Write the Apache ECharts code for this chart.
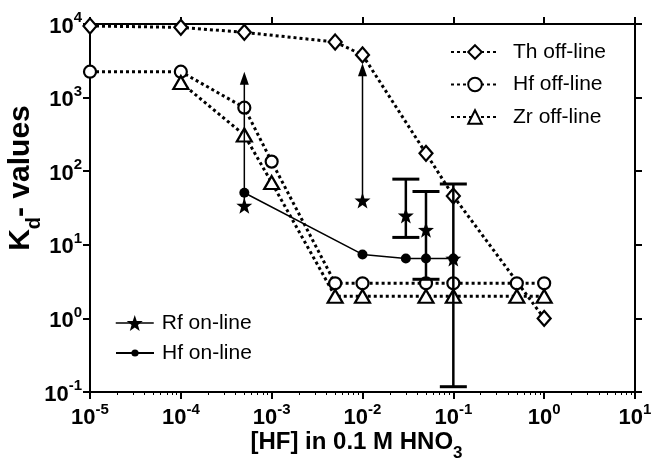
<!DOCTYPE html>
<html>
<head>
<meta charset="utf-8">
<script src="https://cdn.jsdelivr.net/npm/echarts@6/dist/echarts.min.js"></script>
<style>html,body{margin:0;padding:0;background:#fff}#c{width:654px;height:461px}</style>
</head>
<body>
<div id="c"></div>
<script>
// ---- data ----
const thX = [1e-5, 1e-4, 5e-4, 5e-3, 1e-2, 5e-2, 1e-1, 1];
const thY = [9400, 9000, 7700, 5700, 3800, 175, 46, 1.0];
const hfOffX = [1e-5, 1e-4, 5e-4, 1e-3, 5e-3, 1e-2, 5e-2, 1e-1, 5e-1, 1];
const hfOffY = [2250, 2250, 730, 135, 3, 3, 3, 3, 3, 3];
const zrX = [1e-4, 5e-4, 1e-3, 5e-3, 1e-2, 5e-2, 1e-1, 5e-1, 1];
const zrY = [1600, 310, 70, 2, 2, 2, 2, 2, 2];
const rfX = [5e-4, 1e-2, 3e-2, 5e-2, 1e-1];
const rfY = [34, 40, 25, 16, 6.5];
const hfOnX = [5e-4, 1e-2, 3e-2, 5e-2, 1e-1];
const hfOnY = [51, 7.4, 6.5, 6.5, 6.5];
// lower limits (arrows): from star value up to arrow tip
const arrowX = [5e-4, 1e-2];
const arrowFrom = [34, 40];
const arrowTo = [2250, 2930];
// error bars of Rf on-line
const errX = [3e-2, 5e-2, 1e-1];
const errLow = [12.6, 3.4, 0.118];
const errHigh = [78, 53, 67];
const minorTicks = [];
for (let e = -5; e < 1; e++) for (let m = 2; m <= 9; m++) minorTicks.push(+(m * Math.pow(10, e)).toPrecision(3));

const FONT = 'Liberation Sans, Arial, sans-serif';
const STAR = 'path://M0,-10L2.35,-3.24L9.51,-3.09L3.8,1.24L5.88,8.09L0,4.2L-5.88,8.09L-3.8,1.24L-9.51,-3.09L-2.35,-3.24Z';
const DOT = [3, 3];

const pow10 = v => '{b|10}{e|' + Math.round(Math.log10(v)) + '}';
const richLbl = {
  b: {fontSize: 22, fontWeight: 'bold', fontFamily: FONT, color: '#000', lineHeight: 27, verticalAlign: 'bottom'},
  e: {fontSize: 15, fontWeight: 'bold', fontFamily: FONT, color: '#000', lineHeight: 15, verticalAlign: 'top'}
};
const axLine = {show: true, lineStyle: {color: '#000', width: 2}};
const tickOut = {show: true, inside: false, length: 7, lineStyle: {color: '#000', width: 2}};

const zip = (xs, ys) => xs.map((x, i) => [x, ys[i]]);
const hollow = {color: '#fff', borderColor: '#000', borderWidth: 2.2};
const legText = pad => ({fontSize: 21, fontFamily: FONT, color: '#000', lineHeight: 24, padding: [0, 0, 0, pad]});

const chart = echarts.init(document.getElementById('c'), null, {renderer: 'canvas'});
chart.setOption({
  animation: false,
  backgroundColor: '#fff',
  grid: {left: 90, right: 19, top: 24, bottom: 69, outerBoundsMode: 'none'},
  xAxis: [
    {type: 'log', logBase: 10, min: 1e-5, max: 10, position: 'bottom',
     axisLine: axLine, axisTick: tickOut, splitLine: {show: false},
     axisLabel: {margin: 10, formatter: pow10, rich: richLbl},
     name: '{t|[HF] in 0.1 M HNO}{s|3}', nameLocation: 'middle', nameGap: 38, nameMoveOverlap: false,
     nameTextStyle: {rich: {
       t: {fontSize: 24, fontWeight: 'bold', fontFamily: FONT, color: '#000', lineHeight: 28, verticalAlign: 'top'},
       s: {fontSize: 17, fontWeight: 'bold', fontFamily: FONT, color: '#000', lineHeight: 17, verticalAlign: 'bottom', padding: [0, 0, -4, 0]}
     }, padding: [0, 12, 0, 0]}},
    {type: 'log', logBase: 10, min: 1e-5, max: 10, position: 'top',
     axisLine: axLine, axisTick: tickOut, axisLabel: {show: false}, splitLine: {show: false}},
    {type: 'log', logBase: 10, min: 1e-5, max: 10, position: 'bottom',
     axisLine: {show: false}, axisLabel: {show: false}, splitLine: {show: false},
     axisTick: {show: true, inside: false, length: 3, customValues: minorTicks, lineStyle: {color: '#000', width: 1}}}
  ],
  yAxis: [
    {type: 'log', logBase: 10, min: 0.1, max: 1e4, position: 'left',
     axisLine: axLine, axisTick: tickOut, splitLine: {show: false},
     axisLabel: {margin: 8, formatter: pow10, rich: richLbl},
     name: '{k|K}{d|d}{k|- values}', nameLocation: 'middle', nameGap: 52, nameRotate: 90,
     nameMoveOverlap: false,
     nameTextStyle: {rich: {
       k: {fontSize: 30, fontWeight: 'bold', fontFamily: FONT, color: '#000', lineHeight: 34},
       d: {fontSize: 20, fontWeight: 'bold', fontFamily: FONT, color: '#000', lineHeight: 20, verticalAlign: 'bottom', padding: [0, 0, -6, 0]}
     }, padding: [0, 0, 0, 60]}},
    {type: 'log', logBase: 10, min: 0.1, max: 1e4, position: 'right',
     axisLine: axLine, axisTick: tickOut, axisLabel: {show: false}, splitLine: {show: false}}
  ],
  legend: [
    {data: ['Th off-line', 'Hf off-line', 'Zr off-line'], orient: 'vertical', left: 450, top: 40, padding: 0,
     itemWidth: 48, itemHeight: 17, itemGap: 8.5, textStyle: legText(9)},
    {data: ['Rf on-line'], orient: 'vertical', left: 115, top: 311, padding: 0,
     itemWidth: 38, itemHeight: 20,
     lineStyle: {type: 'solid', width: 1.5, color: '#000', opacity: 1}, textStyle: legText(3)},
    {data: ['Hf on-line'], orient: 'vertical', left: 115, top: 341, padding: 0,
     itemWidth: 38, itemHeight: 9, textStyle: legText(3)}
  ],
  series: [
    {name: 'Th off-line', type: 'line', data: zip(thX, thY), symbol: 'diamond', symbolSize: [13, 15],
     itemStyle: hollow, lineStyle: {color: '#000', width: 3, type: DOT}, z: 3},
    {name: 'Hf off-line', type: 'line', data: zip(hfOffX, hfOffY), symbol: 'circle', symbolSize: 12,
     itemStyle: hollow, lineStyle: {color: '#000', width: 3, type: DOT}, z: 3},
    {name: 'Zr off-line', type: 'line', data: zip(zrX, zrY), symbol: 'triangle', symbolSize: [15, 13],
     itemStyle: hollow, lineStyle: {color: '#000', width: 3, type: DOT}, z: 3},
    {name: 'arrows', type: 'custom', data: arrowX.map((x, i) => [x, arrowFrom[i], arrowTo[i]]),
     encode: {x: 0, y: [1, 2]}, z: 4, silent: true,
     renderItem: (p, api) => {
       const a = api.coord([api.value(0), api.value(1)]);
       const b = api.coord([api.value(0), api.value(2)]);
       return {type: 'group', children: [
         {type: 'line', shape: {x1: a[0], y1: a[1], x2: b[0], y2: b[1] + 10}, style: {stroke: '#000', lineWidth: 1.5}},
         {type: 'polygon', shape: {points: [[b[0], b[1]], [b[0] - 4.5, b[1] + 13], [b[0] + 4.5, b[1] + 13]]}, style: {fill: '#000'}}
       ]};
     }},
    {name: 'errors', type: 'custom', data: errX.map((x, i) => [x, errLow[i], errHigh[i]]),
     encode: {x: 0, y: [1, 2]}, z: 4, silent: true,
     renderItem: (p, api) => {
       const lo = api.coord([api.value(0), api.value(1)]);
       const hi = api.coord([api.value(0), api.value(2)]);
       const w = 13.5, st = {stroke: '#000', lineWidth: 2.5};
       return {type: 'group', children: [
         {type: 'line', shape: {x1: lo[0], y1: lo[1], x2: hi[0], y2: hi[1]}, style: st},
         {type: 'line', shape: {x1: lo[0] - w, y1: lo[1], x2: lo[0] + w, y2: lo[1]}, style: {stroke: '#000', lineWidth: 3}},
         {type: 'line', shape: {x1: hi[0] - w, y1: hi[1], x2: hi[0] + w, y2: hi[1]}, style: {stroke: '#000', lineWidth: 3}}
       ]};
     }},
    {name: 'Hf on-line', type: 'line', data: zip(hfOnX, hfOnY), symbol: 'circle', symbolSize: 10,
     itemStyle: {color: '#000'}, lineStyle: {color: '#000', width: 1.5, type: 'solid'}, z: 5},
    {name: 'Rf on-line', type: 'line', data: zip(rfX, rfY), symbol: STAR, symbolSize: 16,
     itemStyle: {color: '#000'}, lineStyle: {color: '#000', width: 1.5, opacity: 0}, z: 6}
  ]
});
</script>
</body>
</html>
